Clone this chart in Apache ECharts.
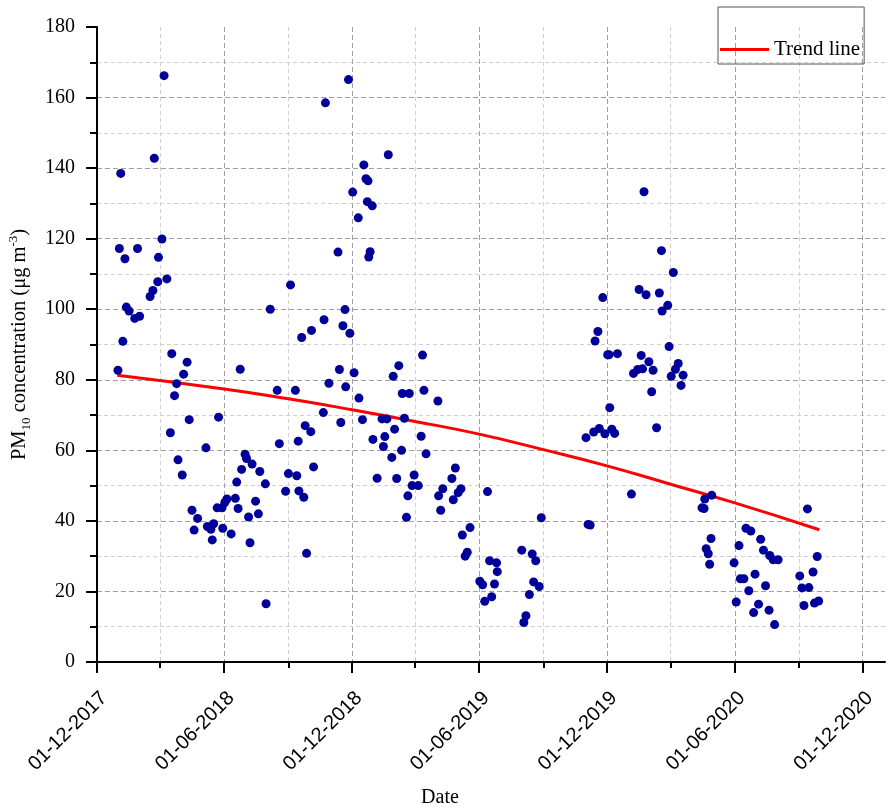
<!DOCTYPE html>
<html lang="en">

<head>
  <meta charset="UTF-8">
  <title>PM10 trend</title>
  <style>
    html, body { margin: 0; padding: 0; background: #fff; }
  </style>
</head>

<body>
  <div id="main" style="width: 887px;height:811px;"></div>

  <script src="https://cdn.jsdelivr.net/npm/echarts@6/dist/echarts.min.js"></script>

  <script type="text/javascript">
    // measured PM10 samples (date, µg m-3)
    var pmDates = [
      '2017-12-31', '2018-01-02', '2018-01-04', '2018-01-07', '2018-01-10', '2018-01-12', '2018-01-16', '2018-01-24',
      '2018-01-28', '2018-01-31', '2018-02-15', '2018-02-19', '2018-02-21', '2018-02-26', '2018-02-27', '2018-03-04',
      '2018-03-07', '2018-03-11', '2018-03-16', '2018-03-18', '2018-03-22', '2018-03-25', '2018-03-27', '2018-04-02',
      '2018-04-04', '2018-04-09', '2018-04-12', '2018-04-16', '2018-04-19', '2018-04-24', '2018-05-06', '2018-05-08',
      '2018-05-13', '2018-05-15', '2018-05-17', '2018-05-22', '2018-05-24', '2018-05-29', '2018-05-30', '2018-06-02',
      '2018-06-05', '2018-06-11', '2018-06-17', '2018-06-19', '2018-06-21', '2018-06-24', '2018-06-26', '2018-07-01',
      '2018-07-03', '2018-07-06', '2018-07-08', '2018-07-11', '2018-07-16', '2018-07-20', '2018-07-22', '2018-07-30',
      '2018-07-31', '2018-08-06', '2018-08-16', '2018-08-19', '2018-08-28', '2018-09-01', '2018-09-04', '2018-09-11',
      '2018-09-13', '2018-09-15', '2018-09-16', '2018-09-20', '2018-09-23', '2018-09-25', '2018-09-27', '2018-10-03',
      '2018-10-04', '2018-10-07', '2018-10-21', '2018-10-22', '2018-10-24', '2018-10-29', '2018-11-11', '2018-11-13',
      '2018-11-15', '2018-11-18', '2018-11-21', '2018-11-22', '2018-11-26', '2018-11-28', '2018-12-02', '2018-12-04',
      '2018-12-10', '2018-12-11', '2018-12-16', '2018-12-18', '2018-12-21', '2018-12-23', '2018-12-24', '2018-12-25',
      '2018-12-27', '2018-12-30', '2018-12-31', '2019-01-06', '2019-01-13', '2019-01-15', '2019-01-17', '2019-01-20',
      '2019-01-22', '2019-01-27', '2019-01-29', '2019-01-31', '2019-02-03', '2019-02-06', '2019-02-10', '2019-02-11',
      '2019-02-14', '2019-02-17', '2019-02-19', '2019-02-21', '2019-02-25', '2019-02-28', '2019-03-06', '2019-03-10',
      '2019-03-12', '2019-03-14', '2019-03-17', '2019-04-03', '2019-04-04', '2019-04-07', '2019-04-10', '2019-04-23',
      '2019-04-25', '2019-04-28', '2019-05-02', '2019-05-06', '2019-05-08', '2019-05-12', '2019-05-15', '2019-05-19',
      '2019-06-02', '2019-06-06', '2019-06-09', '2019-06-13', '2019-06-16', '2019-06-19', '2019-06-23', '2019-06-26',
      '2019-06-27', '2019-08-01', '2019-08-04', '2019-08-07', '2019-08-12', '2019-08-16', '2019-08-18', '2019-08-21',
      '2019-08-26', '2019-08-29', '2019-11-01', '2019-11-04', '2019-11-07', '2019-11-12', '2019-11-14', '2019-11-18',
      '2019-11-20', '2019-11-25', '2019-11-28', '2019-12-02', '2019-12-04', '2019-12-05', '2019-12-08', '2019-12-12',
      '2019-12-16', '2020-01-05', '2020-01-08', '2020-01-14', '2020-01-16', '2020-01-19', '2020-01-21', '2020-01-23',
      '2020-01-26', '2020-01-30', '2020-02-03', '2020-02-05', '2020-02-10', '2020-02-14', '2020-02-17', '2020-02-18',
      '2020-02-26', '2020-02-28', '2020-03-02', '2020-03-05', '2020-03-08', '2020-03-12', '2020-03-16', '2020-03-19',
      '2020-04-15', '2020-04-18', '2020-04-19', '2020-04-21', '2020-04-24', '2020-04-26', '2020-04-28', '2020-04-29',
      '2020-05-31', '2020-06-03', '2020-06-07', '2020-06-09', '2020-06-14', '2020-06-17', '2020-06-21', '2020-06-24',
      '2020-06-28', '2020-06-30', '2020-07-05', '2020-07-08', '2020-07-12', '2020-07-15', '2020-07-20', '2020-07-21',
      '2020-07-26', '2020-07-28', '2020-08-02', '2020-09-02', '2020-09-05', '2020-09-08', '2020-09-13', '2020-09-15',
      '2020-09-21', '2020-09-23', '2020-09-27', '2020-09-29'
    ];
    var pmValues = [
      82.7, 117.2, 138.5, 90.9, 114.3, 100.6, 99.5, 97.4,
      117.2, 98.0, 103.6, 105.3, 142.8, 107.8, 114.7, 119.9,
      166.2, 108.6, 65.0, 87.4, 75.5, 78.9, 57.3, 53.0,
      81.6, 85.0, 68.7, 43.0, 37.4, 40.7, 60.7, 38.4,
      37.6, 34.6, 39.2, 43.7, 69.4, 43.7, 37.9, 45.2,
      46.2, 36.3, 46.4, 51.0, 43.5, 83.0, 54.6, 58.9,
      57.7, 41.1, 33.8, 56.1, 45.6, 42.0, 54.0, 50.5,
      16.5, 100.0, 77.0, 61.9, 48.4, 53.4, 106.9, 77.0,
      52.8, 62.6, 48.5, 92.0, 46.7, 67.0, 30.8, 65.3,
      94.0, 55.3, 70.7, 97.0, 158.5, 79.0, 116.2, 82.9,
      67.9, 95.3, 99.9, 78.0, 165.1, 93.2, 133.2, 82.0,
      125.9, 74.8, 68.7, 140.9, 137.0, 130.5, 136.4, 114.8,
      116.3, 129.3, 63.1, 52.1, 68.9, 61.1, 63.9, 68.9,
      143.8, 58.0, 81.0, 66.0, 52.0, 84.0, 60.0, 76.1,
      69.1, 41.0, 47.1, 76.1, 50.0, 53.0, 50.0, 64.0,
      87.0, 77.0, 59.0, 74.0, 47.1, 43.0, 49.1, 52.0,
      46.0, 55.0, 48.0, 49.1, 36.0, 30.0, 31.1, 38.1,
      22.9, 21.9, 17.2, 48.3, 28.7, 18.5, 22.1, 28.1,
      25.6, 31.7, 11.2, 13.1, 19.1, 30.6, 22.7, 28.7,
      21.4, 40.9, 63.6, 39.0, 38.8, 65.2, 91.0, 93.7,
      66.2, 103.3, 64.7, 87.1, 87.1, 72.1, 66.0, 64.8,
      87.4, 47.6, 81.8, 82.9, 105.6, 86.9, 83.1, 133.3,
      104.1, 85.1, 76.6, 82.7, 66.4, 104.6, 116.6, 99.5,
      101.1, 89.4, 81.0, 110.4, 83.0, 84.6, 78.4, 81.3,
      43.7, 43.5, 46.2, 32.1, 30.7, 27.7, 35.0, 47.3,
      28.1, 17.0, 33.0, 23.6, 23.6, 37.9, 20.2, 37.1,
      14.0, 24.9, 16.4, 34.8, 31.7, 21.6, 14.7, 30.2,
      29.0, 10.6, 29.0, 24.4, 21.0, 16.0, 43.4, 21.1,
      25.5, 16.7, 29.9, 17.3
    ];

    // fitted trend line
    var trendDates = ['2017-12-30', '2018-06-01', '2018-09-01', '2018-12-01', '2019-03-01', '2019-06-01',
      '2019-09-01', '2019-12-01', '2020-03-01', '2020-06-01', '2020-09-30'];
    var trendValues = [81.3, 77.4, 74.6, 71.5, 68.2, 64.6, 60.2, 55.6, 50.4, 45.1, 37.5];

    // x ticks
    var majorTickDates = ['2017-12-01', '2018-06-01', '2018-12-01', '2019-06-01', '2019-12-01', '2020-06-01', '2020-12-01'];
    var minorTickDates = ['2018-03-01', '2018-09-01', '2019-03-01', '2019-09-01', '2020-03-01', '2020-09-01'];

    function ts(s) {
      var p = s.split('-').map(Number);
      return new Date(p[0], p[1] - 1, p[2]).getTime();
    }

    function pad(n) {
      return n < 10 ? '0' + n : '' + n;
    }

    var scatterData = pmDates.map(function (d, i) {
      return [ts(d), pmValues[i]];
    });
    var trendData = trendDates.map(function (d, i) {
      return [ts(d), trendValues[i]];
    });

    var serif = 'Liberation Serif';
    var sans = 'Liberation Sans';
    var xMin = ts('2017-12-01');
    var xMax = ts('2021-01-02');

    var myChart = echarts.init(document.getElementById('main'));

    var option = {
      backgroundColor: '#fff',
      animation: false,
      grid: {
        left: 97,
        right: 2,
        top: 27,
        bottom: 149,
        containLabel: false,
        outerBoundsMode: 'none'
      },
      legend: {
        left: 718,
        top: 7,
        padding: [32, 4, 4, 2],
        borderColor: '#555',
        borderWidth: 1,
        itemWidth: 49,
        itemHeight: 3,
        textStyle: {
          fontFamily: serif,
          fontSize: 21,
          color: '#000'
        },
        data: [{ name: 'Trend line', icon: 'rect' }]
      },
      xAxis: [{
        // dates kept as timestamps on a value axis so ticks can sit on 1 Dec / 1 Jun
        type: 'value',
        min: xMin,
        max: xMax,
        position: 'bottom',
        name: 'Date',
        nameLocation: 'middle',
        nameGap: 126,
        nameTextStyle: {
          fontFamily: serif,
          fontSize: 20,
          color: '#000',
          padding: [0, 102, 0, 0]
        },
        axisLine: {
          show: true,
          onZero: false,
          lineStyle: { color: '#000', width: 2 }
        },
        axisTick: {
          show: true,
          length: 11,
          customValues: majorTickDates.map(ts),
          lineStyle: { color: '#000', width: 2 }
        },
        axisLabel: {
          show: true,
          customValues: majorTickDates.map(ts),
          rotate: 45,
          margin: 26,
          verticalAlign: 'top',
          fontFamily: sans,
          fontSize: 20,
          color: '#000',
          formatter: function (v) {
            var d = new Date(v);
            return pad(d.getDate()) + '-' + pad(d.getMonth() + 1) + '-' + d.getFullYear();
          }
        },
        splitLine: {
          show: true,
          lineStyle: { color: '#a0a0a0', width: 1, type: [5, 3] }
        }
      }, {
        // minor ticks / grid between the half-year marks
        type: 'value',
        min: xMin,
        max: xMax,
        position: 'bottom',
        offset: 0,
        axisLine: { show: false, onZero: false },
        axisTick: {
          show: true,
          length: 6,
          customValues: minorTickDates.map(ts),
          lineStyle: { color: '#000', width: 2 }
        },
        axisLabel: { show: false },
        splitLine: {
          show: true,
          lineStyle: { color: '#d0d0d0', width: 1, type: [4, 3] }
        }
      }],
      yAxis: {
        type: 'value',
        min: 0,
        max: 180,
        interval: 20,
        name: '{b|PM}{sub|10}{b| concentration (μg m}{sup|-3}{b|)}',
        nameLocation: 'middle',
        nameGap: 64,
        nameTextStyle: {
          fontFamily: serif,
          fontSize: 20.5,
          color: '#000',
          rich: {
            b: { fontFamily: serif, fontSize: 20.5, color: '#000', lineHeight: 26 },
            sub: { fontFamily: serif, fontSize: 13, color: '#000', lineHeight: 13, verticalAlign: 'bottom' },
            sup: { fontFamily: serif, fontSize: 13, color: '#000', lineHeight: 13, verticalAlign: 'top' }
          }
        },
        axisLine: {
          show: true,
          lineStyle: { color: '#000', width: 2 }
        },
        axisTick: {
          show: true,
          length: 11,
          lineStyle: { color: '#000', width: 2 }
        },
        minorTick: {
          show: true,
          splitNumber: 2,
          length: 7,
          lineStyle: { color: '#000', width: 2 }
        },
        axisLabel: {
          margin: 22,
          fontFamily: serif,
          fontSize: 20,
          color: '#000'
        },
        splitLine: {
          show: true,
          showMaxLine: false,
          lineStyle: { color: '#a0a0a0', width: 1, type: [5, 3] }
        },
        minorSplitLine: {
          show: true,
          lineStyle: { color: '#d0d0d0', width: 1, type: [4, 3] }
        }
      },
      series: [{
          name: 'Trend line',
          type: 'line',
          xAxisIndex: 0,
          data: trendData,
          smooth: true,
          showSymbol: false,
          symbol: 'none',
          lineStyle: { color: '#ff0000', width: 3 },
          itemStyle: { color: '#ff0000' },
          z: 2
        },
        {
          name: 'PM10',
          type: 'scatter',
          xAxisIndex: 0,
          data: scatterData,
          symbolSize: 9,
          itemStyle: { color: '#000099', opacity: 1 },
          z: 3
        }
      ]
    };

    myChart.setOption(option);
  </script>
</body>

</html>
